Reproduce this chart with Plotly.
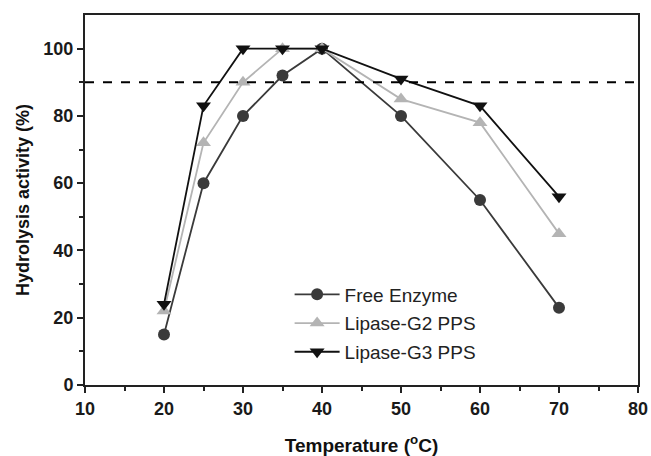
import plotly.graph_objects as go

temps = [20, 25, 30, 35, 40, 50, 60, 70]
free_enzyme = [15, 60, 80, 92, 100, 80, 55, 23]
lipase_g2 = [22, 72, 90, 100, 100, 85, 78, 45]
lipase_g3 = [24, 83, 100, 100, 100, 91, 83, 56]
threshold = 90

FONT = "Liberation Sans, Arial"

fig = go.Figure()
fig.add_trace(go.Scatter(x=temps, y=free_enzyme, name="Free Enzyme", mode="lines+markers",
                         legendgroup="a",
                         line=dict(color="#3a3a3a", width=1.8),
                         marker=dict(symbol="circle", size=12, color="#3a3a3a")))
fig.add_trace(go.Scatter(x=temps, y=lipase_g2, name="Lipase-G2 PPS", mode="lines+markers",
                         legendgroup="b",
                         line=dict(color="#b4b4b4", width=1.8),
                         marker=dict(symbol="triangle-up", size=13, color="#b4b4b4")))
fig.add_trace(go.Scatter(x=temps, y=lipase_g3, name="Lipase-G3 PPS", mode="lines+markers",
                         legendgroup="c",
                         line=dict(color="#111111", width=1.8),
                         marker=dict(symbol="triangle-down", size=13, color="#111111")))
fig.add_shape(type="line", xref="paper", x0=0, x1=1, yref="y", y0=threshold, y1=threshold,
              line=dict(color="black", width=2, dash="dash"))

axis_common = dict(showgrid=False, zeroline=False, showline=True, linecolor="#222", linewidth=2,
                   mirror=True, ticks="outside", ticklen=6, tickwidth=1.5, tickcolor="#222",
                   automargin=False,
                   tickfont=dict(family=FONT, size=18, color="#1a1a1a", weight="bold"))
fig.update_xaxes(range=[10, 80], dtick=10,
                 minor=dict(ticks="outside", dtick=5, ticklen=4, tickwidth=1.5, tickcolor="#222"),
                 title=dict(text="<b>Temperature (<sup>o</sup>C)</b>", standoff=21,
                            font=dict(family=FONT, size=19, color="#111")),
                 **axis_common)
fig.update_yaxes(range=[0, 110], tickvals=[0, 20, 40, 60, 80, 100],
                 minor=dict(ticks="outside", tickvals=[10, 30, 50, 70, 90], ticklen=4, tickwidth=1.5, tickcolor="#222"),
                 title=dict(text="<b>Hydrolysis activity (%)</b>", standoff=9,
                            font=dict(family=FONT, size=18, color="#111")),
                 **axis_common)

fig.update_layout(
    width=651, height=456,
    margin=dict(l=85, r=13, t=15, b=71),
    plot_bgcolor="white", paper_bgcolor="white",
    showlegend=True,
    legend=dict(x=0.37, y=0.296, xanchor="left", yanchor="top", bgcolor="rgba(0,0,0,0)",
                font=dict(family=FONT, size=19, color="#222"),
                tracegroupgap=1, itemwidth=45),
)
fig.write_html("out.html")
